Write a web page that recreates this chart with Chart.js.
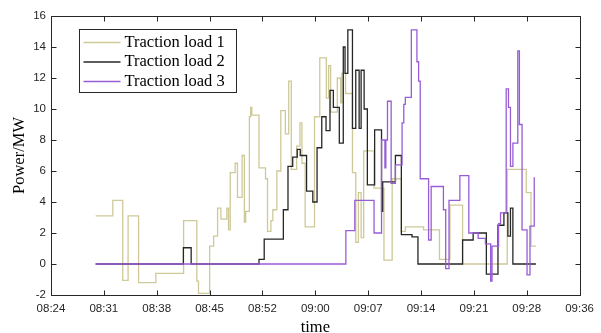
<!DOCTYPE html>
<html><head><meta charset="utf-8">
<script src="https://cdn.jsdelivr.net/npm/chart.js@4/dist/chart.umd.min.js"></script>
<style>html,body{margin:0;padding:0;background:#fff;overflow:hidden;}</style>
</head><body>
<canvas id="c" width="601" height="333"></canvas>
<script>
// time values are minutes after 08:00
const seriesNames = ['Traction load 1', 'Traction load 2', 'Traction load 3'];

const load1Time = [30.08,32.42,33.77,34.50,35.93,38.28,42.06,43.86,44.09,45.61,46.15,46.69,47.14,47.95,48.18,48.41,49.08,49.40,50.03,50.34,50.52,51.02,51.19,51.35,52.33,53.22,53.49,53.95,54.22,54.76,55.30,55.92,56.38,56.73,57.46,57.91,58.18,58.62,59.89,60.61,61.50,61.82,62.09,63.00,63.44,63.62,64.12,65.06,65.51,65.87,66.24,66.59,68.00,69.35,70.47,71.72,72.26,74.75,76.91,78.34,80.06,86.14,88.74,89.38,90.05];
const load1Power = [3.1,4.1,-1.05,3.1,-1.2,-0.6,2.8,-1.1,-1.9,1.15,1.8,3.6,2.9,3.6,2.2,5.9,6.5,4.3,7.0,2.7,3.4,9.5,10.1,9.6,6.2,5.5,2.1,2.8,3.5,6.0,9.9,8.4,11.8,6.1,7.6,9.1,6.5,2.4,9.5,13.3,10.7,12.8,9.8,12.0,10.4,12.3,11.0,5.9,1.4,4.6,1.7,7.3,4.9,0.25,5.5,2.1,2.4,2.2,0.3,3.8,0,6.1,4.6,1.15,1.15];

const load2Time = [30.08,42.03,43.09,52.33,53.04,55.65,56.28,56.92,57.54,57.95,58.81,59.66,60.24,60.88,61.46,62.00,62.46,63.27,63.81,64.05,64.43,65.06,65.51,65.97,66.24,66.65,67.09,68.08,69.02,69.18,70.91,71.72,73.17,73.98,80.06,81.50,83.30,84.88,85.69,86.23,86.58,86.91,90.05];
const load2Power = [0,1.05,0,0.3,1.6,3.5,6.3,6.9,7.4,7.0,4.7,4.0,7.5,9.5,8.6,11.2,10.1,7.8,14.0,12.3,15.1,8.75,12.5,8.75,12.5,10.0,5.1,8.65,3.4,5.3,7.0,1.9,1.75,0,1.55,2.0,-0.65,2.5,3.3,1.8,3.6,0,0];

const load3Time = [30.08,64.16,65.38,68.00,69.02,69.48,69.61,69.83,70.33,70.91,71.82,72.05,72.26,73.08,73.84,74.07,74.29,75.43,75.78,77.45,77.76,78.21,79.69,80.91,82.18,83.17,83.88,84.07,84.96,85.23,86.00,86.31,86.58,86.91,87.58,87.80,88.16,88.84,89.24,89.82];
const load3Power = [0,2.15,4.1,2.0,8.0,6.2,8.0,10.5,5.2,6.4,9.1,10.3,10.75,15.1,13.05,11.8,5.5,1.55,5.0,3.5,-0.3,4.1,5.7,2.0,1.65,1.3,-1.1,1.15,2.6,3.3,11.3,10.1,6.3,7.8,13.75,9.0,2.2,-0.7,2.45,5.6];

const xTickValues = [24, 31.2, 38.4, 45.6, 52.8, 60, 67.2, 74.4, 81.6, 88.8, 96];
const xTickLabels = ['08:24','08:31','08:38','08:45','08:52','09:00','09:07','09:14','09:21','09:28','09:36'];
const yTickValues = [-2,0,2,4,6,8,10,12,14,16];

const colors = ['rgb(206,201,152)', 'rgb(38,38,38)', 'rgb(152,92,214)'];

function pts(t, p) { return t.map((v, i) => ({ x: v, y: p[i] })); }

const framePlugin = {
  id: 'frame',
  afterDraw(chart) {
    const { ctx, chartArea: a, scales: { x, y } } = chart;
    ctx.save();
    ctx.strokeStyle = '#262626';
    ctx.lineWidth = 1;
    const L = Math.round(a.left) + 0.5, R = Math.round(a.right) + 0.5,
          T = Math.round(a.top) + 0.5, B = Math.round(a.bottom) + 0.5;
    ctx.beginPath();
    ctx.rect(L, T, R - L, B - T);
    x.ticks.forEach(t => {
      const px = Math.round(x.getPixelForValue(t.value)) + 0.5;
      ctx.moveTo(px, B); ctx.lineTo(px, B - 5);
      ctx.moveTo(px, T); ctx.lineTo(px, T + 5);
    });
    y.ticks.forEach(t => {
      const py = Math.round(y.getPixelForValue(t.value)) + 0.5;
      ctx.moveTo(L, py); ctx.lineTo(L + 5, py);
      ctx.moveTo(R, py); ctx.lineTo(R - 5, py);
    });
    ctx.stroke();
    ctx.restore();
  }
};

const legendPlugin = {
  id: 'boxLegend',
  afterDatasetsDraw(chart) {
    const { ctx, chartArea: a } = chart;
    const bx = Math.round(a.left) + 28.5, by = Math.round(a.top) + 13.5, bw = 157, bh = 63;
    ctx.save();
    ctx.fillStyle = '#fff';
    ctx.fillRect(bx, by, bw, bh);
    ctx.strokeStyle = '#262626';
    ctx.lineWidth = 1;
    ctx.strokeRect(bx, by, bw, bh);
    ctx.font = '16.5px "Liberation Serif", "Times New Roman", serif';
    ctx.textBaseline = 'middle';
    ctx.fillStyle = '#000';
    chart.data.datasets.forEach((ds, i) => {
      const yy = by + 13 + i * 19.5;
      ctx.strokeStyle = ds.borderColor;
      ctx.lineWidth = 1.5;
      ctx.beginPath();
      ctx.moveTo(bx + 4, yy); ctx.lineTo(bx + 41, yy);
      ctx.stroke();
      ctx.fillText(ds.label, bx + 45, yy);
    });
    ctx.restore();
  }
};

new Chart(document.getElementById('c'), {
  type: 'line',
  data: {
    datasets: [
      { label: seriesNames[0], data: pts(load1Time, load1Power), borderColor: colors[0], order: 2 },
      { label: seriesNames[1], data: pts(load2Time, load2Power), borderColor: colors[1], order: 1 },
      { label: seriesNames[2], data: pts(load3Time, load3Power), borderColor: colors[2], order: 0 }
    ].map(d => Object.assign(d, { stepped: true, borderWidth: 1.3, pointRadius: 0, fill: false, tension: 0 }))
  },
  options: {
    responsive: false,
    animation: false,
    devicePixelRatio: 1,
    layout: { padding: { top: 16, right: 17, left: 0, bottom: 0 } },
    plugins: { legend: { display: false }, tooltip: { enabled: false } },
    scales: {
      x: {
        type: 'linear', min: 24, max: 96,
        grid: { display: false, drawTicks: false },
        border: { display: false },
        afterBuildTicks: s => { s.ticks = xTickValues.map(v => ({ value: v })); },
        afterFit: s => { s.height = 38; },
        ticks: {
          autoSkip: false, maxRotation: 0, padding: 7, color: '#262626',
          font: { family: '"Liberation Sans", Arial, sans-serif', size: 11.5 },
          callback: (v, i) => xTickLabels[i]
        },
        title: { display: true, text: 'time', color: '#000', padding: { top: -3, bottom: -3 },
          font: { family: '"Liberation Serif", "Times New Roman", serif', size: 16.5, lineHeight: 1.0 } }
      },
      y: {
        min: -2, max: 16,
        grid: { display: false, drawTicks: false },
        border: { display: false },
        afterBuildTicks: s => { s.ticks = yTickValues.map(v => ({ value: v })); },
        afterFit: s => { s.width = 51; },
        ticks: {
          padding: 5, color: '#262626',
          font: { family: '"Liberation Sans", Arial, sans-serif', size: 11.5 },
          callback: v => String(v)
        },
        title: { display: true, text: 'Power/MW', color: '#000', padding: { top: 10, bottom: 0 },
          font: { family: '"Liberation Serif", "Times New Roman", serif', size: 16.5 } }
      }
    }
  },
  plugins: [legendPlugin, framePlugin]
});
</script>
</body></html>
